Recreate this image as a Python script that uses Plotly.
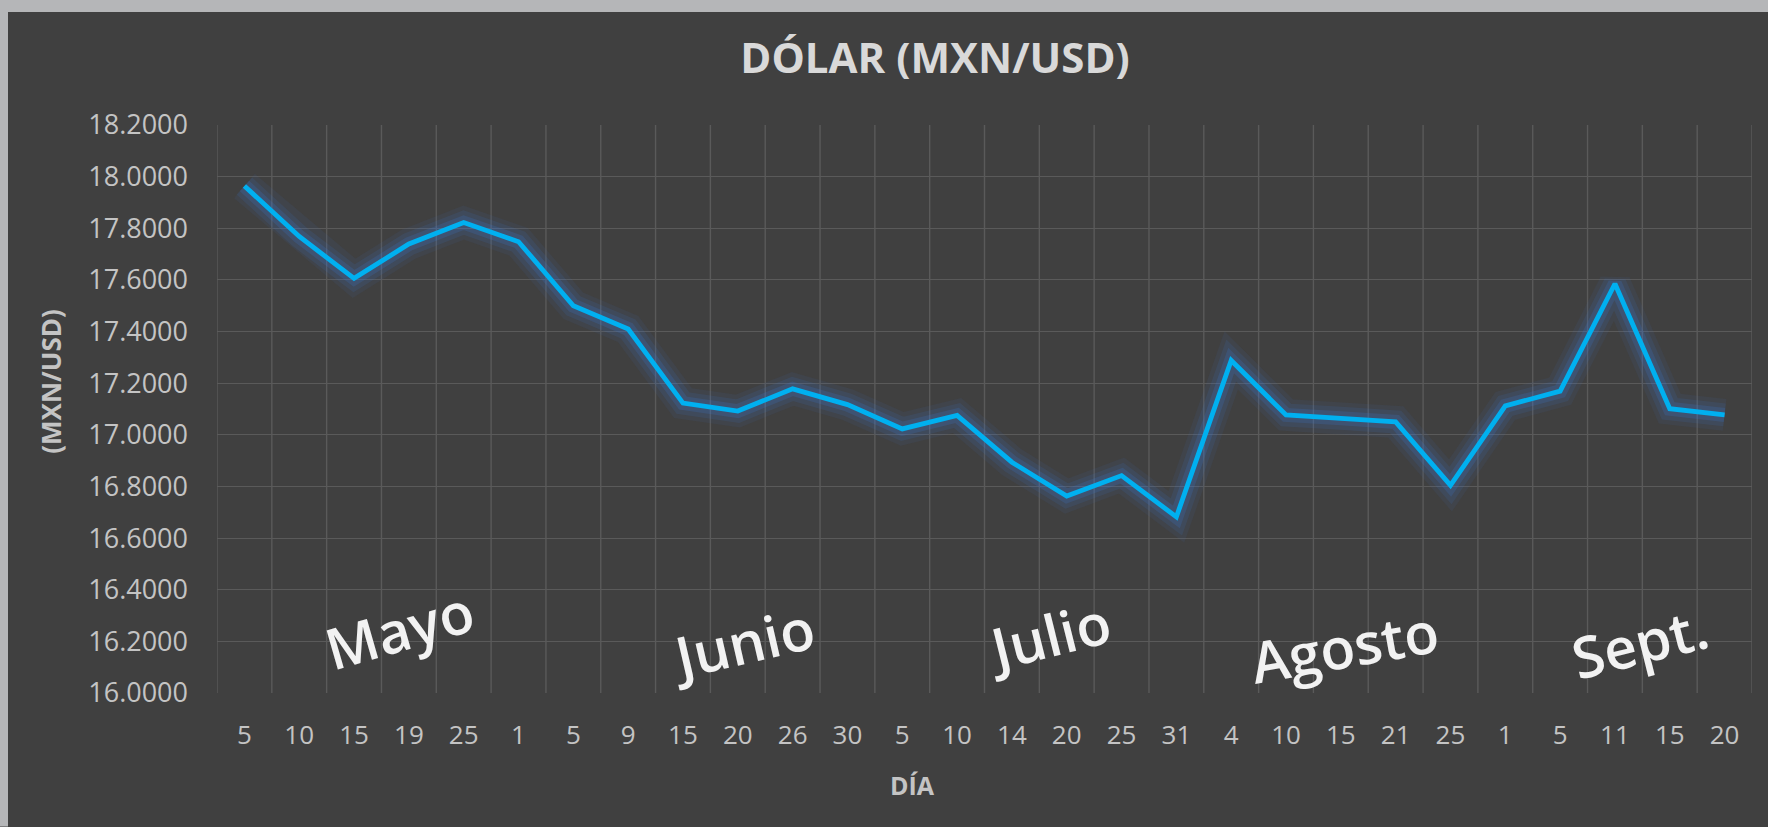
import plotly.graph_objects as go

# ---- data ----
days = ["5", "10", "15", "19", "25", "1", "5", "9", "15", "20", "26", "30", "5", "10",
        "14", "20", "25", "31", "4", "10", "15", "21", "25", "1", "5", "11", "15", "20"]
rates = [17.964, 17.768, 17.606, 17.739, 17.822, 17.748, 17.500, 17.410, 17.123, 17.092,
         17.178, 17.117, 17.023, 17.075, 16.894, 16.763, 16.842, 16.682, 17.288, 17.077,
         17.064, 17.050, 16.804, 17.112, 17.169, 17.585, 17.101, 17.077]
months = ["Mayo", "Junio", "Julio", "Agosto", "Sept."]
month_pos = [2.83, 9.09, 14.67, 20.07, 25.46]
month_val = [16.246, 16.196, 16.226, 16.181, 16.196]
month_angle = [-16, -13, -14, -10, -14]
y_ticks = [16.0 + 0.2 * i for i in range(12)]

title_text = "DÓLAR (MXN/USD)"
x_title = "DÍA"
y_title = "(MXN/USD)"

# ---- styling ----
BG = "#404040"
FRAME = "#b5b6b8"
GRID = "#5a5a5a"
TICK = "#c4c4c4"
LINE = "#00b0f0"
FONT = "Open Sans"

W, H = 1768, 827
L, R, T, B = 217, 16, 125, 133.5
pw, ph = W - L - R, H - T - B

x_idx = list(range(len(days)))

fig = go.Figure()
# glow layers
for wdt, alpha in [(32, 0.08), (23, 0.12), (14, 0.2)]:
    fig.add_trace(go.Scatter(x=x_idx, y=rates, mode="lines",
                             line=dict(color=f"rgba(60,120,210,{alpha})", width=wdt),
                             hoverinfo="skip", showlegend=False))
fig.add_trace(go.Scatter(x=x_idx, y=rates, mode="lines",
                         line=dict(color=LINE, width=4.8), showlegend=False,
                         hovertemplate="%{y:.4f}<extra></extra>"))

fig.update_xaxes(
    range=[-0.5, len(days) - 0.5],
    tickmode="array", tickvals=x_idx, ticktext=days,
    showgrid=False, zeroline=False, showline=False,
    ticks="", ticklabelstandoff=24,
    tickfont=dict(family=FONT, size=26, color=TICK),
)
fig.update_yaxes(
    range=[16.0, 18.2],
    tickmode="array", tickvals=y_ticks,
    ticktext=[f"{v:.4f}" for v in y_ticks],
    showgrid=True, gridcolor=GRID, gridwidth=1.4,
    zeroline=False, showline=False, ticks="", ticklabelstandoff=28,
    tickfont=dict(family=FONT, size=27, color=TICK),
)

shapes = []
# vertical gridlines at category boundaries
for i in range(len(days) + 1):
    shapes.append(dict(type="line", xref="x", yref="paper", x0=i - 0.5, x1=i - 0.5,
                       y0=0, y1=1, line=dict(color=GRID, width=1.4), layer="below"))
# outer light-grey frame (left and top strips)
def px_x(p):
    return (p - L) / pw
def px_y(p):
    return (H - B - p) / ph
shapes.append(dict(type="rect", xref="paper", yref="paper",
                   x0=px_x(0), x1=px_x(8), y0=px_y(H), y1=px_y(0),
                   fillcolor=FRAME, line=dict(width=0), layer="above"))
shapes.append(dict(type="rect", xref="paper", yref="paper",
                   x0=px_x(0), x1=px_x(W), y0=px_y(12), y1=px_y(0),
                   fillcolor=FRAME, line=dict(width=0), layer="above"))

annotations = []
for m, xp, yv, ang in zip(months, month_pos, month_val, month_angle):
    annotations.append(dict(text=m, x=xp, y=yv, xref="x", yref="y", showarrow=False,
                            textangle=ang, xanchor="center", yanchor="middle",
                            font=dict(family=FONT, size=57, color="#f2f2f2", weight=600)))
annotations.append(dict(text=f"<b>{x_title}</b>", xref="paper", yref="paper",
                        x=px_x(912), y=px_y(786), showarrow=False,
                        xanchor="center", yanchor="middle",
                        font=dict(family=FONT, size=25, color=TICK)))
annotations.append(dict(text=f"<b>{y_title}</b>", xref="paper", yref="paper",
                        x=px_x(51), y=px_y(382), showarrow=False, textangle=-90,
                        xanchor="center", yanchor="middle",
                        font=dict(family=FONT, size=26, color=TICK)))

fig.update_layout(
    width=W, height=H,
    margin=dict(l=L, r=R, t=T, b=B, pad=0),
    paper_bgcolor=BG, plot_bgcolor=BG,
    title=dict(text=f"<b>{title_text}</b>", x=935 / W, xanchor="center",
               y=1 - 58.5 / H, yanchor="middle",
               font=dict(family=FONT, size=42, color="#d9d9d9")),
    shapes=shapes, annotations=annotations,
    showlegend=False,
)

fig.write_html("out.html", config={"displayModeBar": False},
               post_script="document.body.style.margin='0';document.body.style.background='#404040';")
